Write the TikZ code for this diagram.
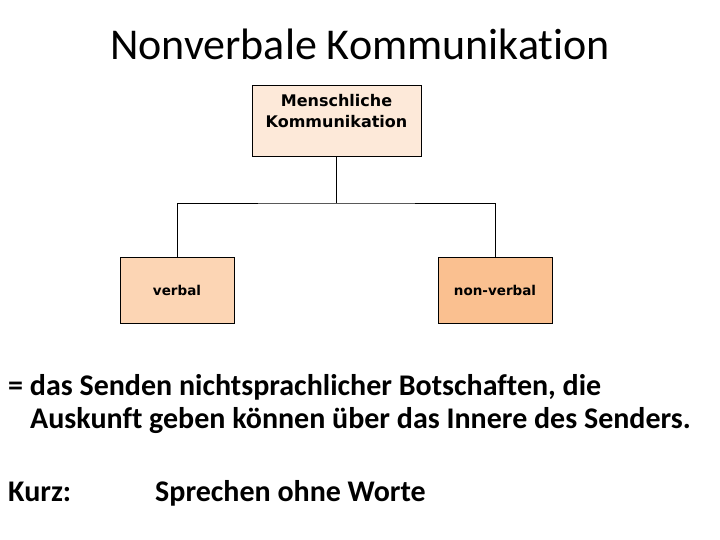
\documentclass[tikz,border=0pt]{standalone}
\usepackage{fontspec}
\setmainfont{Carlito}[Ligatures=NoCommon]
\newfontfamily\boxfont{DejaVu Sans}
\definecolor{topfill}{HTML}{FDE9D9}
\definecolor{leftfill}{HTML}{FCD5B4}
\definecolor{rightfill}{HTML}{FAC090}
\begin{document}
\begin{tikzpicture}[x=1pt,y=-1pt,
  box/.style={draw=black, line width=0.8pt, inner sep=0pt},
  toptextstyle/.style={font=\boxfont\bfseries\fontsize{16}{21}\selectfont, align=center},
  boxtext/.style={font=\boxfont\bfseries\fontsize{13.5}{18}\selectfont, align=center},
  body/.style={font=\bfseries\fontsize{30}{36}\selectfont, anchor=base west, inner sep=0pt},
  conn/.style={draw=black, line width=0.8pt}]
\useasboundingbox (0,0) rectangle (720,540);
\node[font=\fontsize{44}{52}\selectfont, anchor=base, inner sep=0pt] (title) at (360,60) {Nonverbale Kommunikation};
% boxes
\node[box, fill=topfill, minimum width=169pt, minimum height=71pt] (top) at (336.5,120.5) {};
\node[toptextstyle, anchor=base] (toptext) at (336.5,128) {Menschliche\\Kommunikation};
\node[box, fill=leftfill, minimum width=114pt, minimum height=66pt] (left) at (177,290) {};
\node[boxtext] at (left.center) {verbal};
\node[box, fill=rightfill, minimum width=114pt, minimum height=66pt] (right) at (495,290) {};
\node[boxtext] at (right.center) {non-verbal};
\coordinate (j) at (336.5,203);
\draw[conn] (top.south) -- (j);
\draw[conn] (left.north) |- (j) -| (right.north);
% text
\node[body] (l1) at (8,395) {= das Senden nichtsprachlicher Botschaften, die};
\node[body] (l2) at (30,428) {Auskunft geben können über das Innere des Senders.};
\node[body] (k) at (8,501) {Kurz:};
\node[body] (s) at (155,501) {Sprechen ohne Worte};
\end{tikzpicture}
\end{document}
